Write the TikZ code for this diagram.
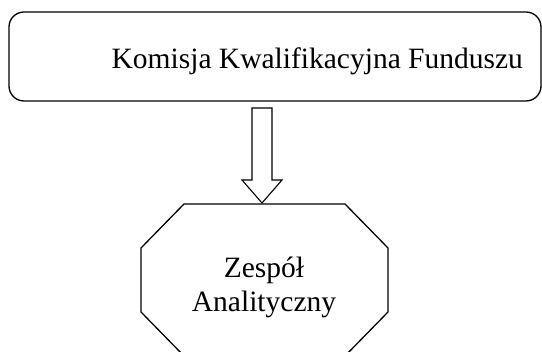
\documentclass[tikz,border=0pt]{standalone}
\usepackage{fontspec}
\setmainfont{Liberation Serif}
\begin{document}
\begin{tikzpicture}[x=1pt,y=-1pt,line width=1.3pt,
  lbl/.style={font=\fontsize{29.5}{34}\selectfont,inner sep=0pt},
  boxst/.style={draw,rounded corners=15pt,minimum width=532pt,minimum height=89pt,inner sep=0pt}]
\useasboundingbox (0,0) rectangle (542,352);
\clip (0,0) rectangle (542,352);
% top box
\node[boxst] (box) at (275,56.5) {};
\node[lbl,anchor=base west] (kom) at (111,69) {Komisja Kwalifikacyjna Funduszu};
% octagon
\coordinate (oct) at (264.5,280);
\draw (184,204) -- (345,204) -- (388,248) -- (388,312) -- (345,356)
      -- (184,356) -- (141,312) -- (141,248) -- cycle;
\node[lbl,align=center] (zesp) at (264,287) {Zespół\\Analityczny};
% block arrow
\coordinate (atop) at (262,108);
\coordinate (atip) at (262,203);
\draw[line width=1.1pt] ([xshift=-10pt]atop) -- ([xshift=10pt]atop) -- ([xshift=10pt,yshift=23pt]atip)
  -- ([xshift=20pt,yshift=23pt]atip) -- (atip) -- ([xshift=-20pt,yshift=23pt]atip)
  -- ([xshift=-10pt,yshift=23pt]atip) -- cycle;
\end{tikzpicture}
\end{document}
